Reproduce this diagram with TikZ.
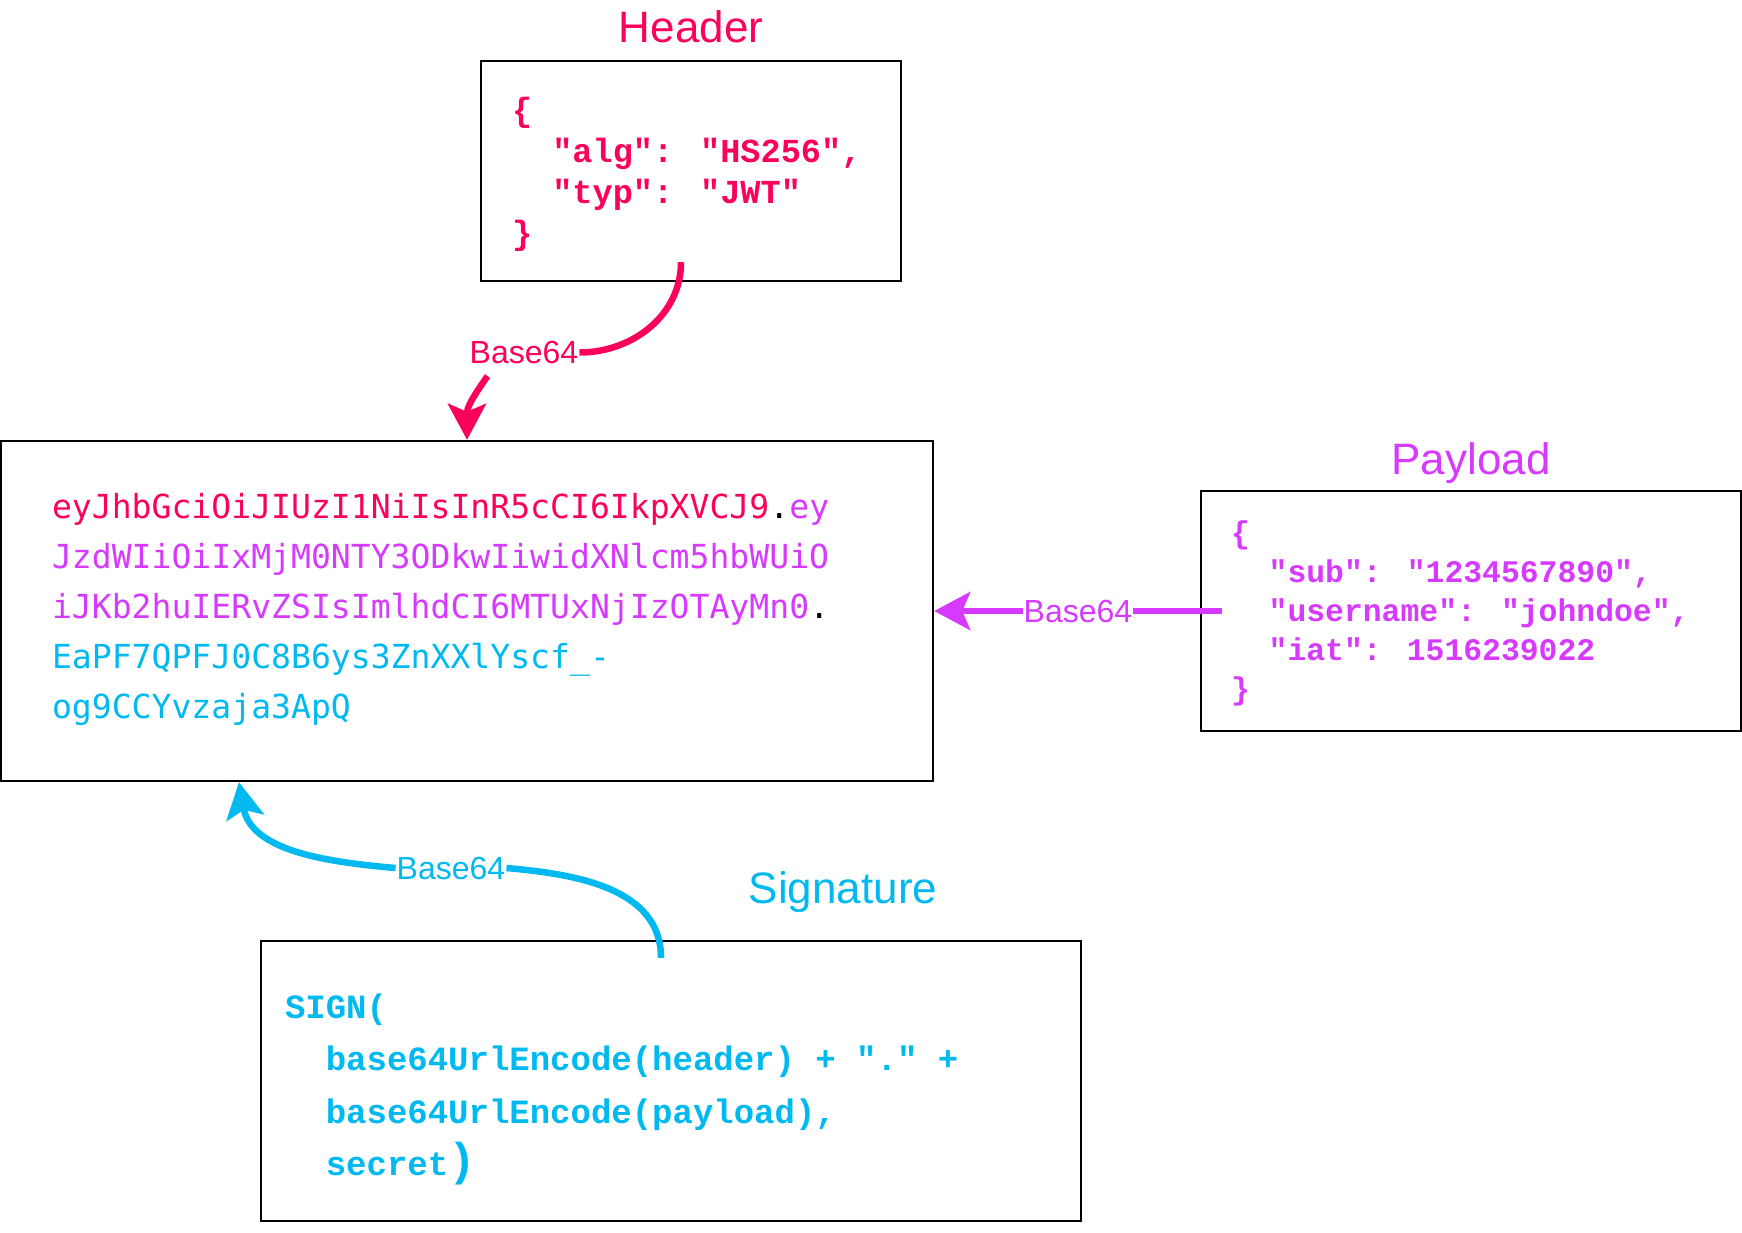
\documentclass[tikz,border=0pt]{standalone}
\usepackage{fontspec}
\setmainfont{Liberation Sans}
\newfontfamily\codefont{Liberation Mono}
\newfontfamily\jwtfont{DejaVu Sans Mono}
\usetikzlibrary{arrows.meta,positioning}
\definecolor{hdrred}{HTML}{FB015B}
\definecolor{paypurple}{HTML}{D63AFF}
\definecolor{sigblue}{HTML}{00B9F1}
\tikzset{
  box/.style={draw, line width=2.4pt, inner sep=0pt},
  part/.style={anchor=base, font=\fontsize{44}{52}\selectfont},
  code/.style={anchor=base west, align=left, inner sep=0pt},
  b64/.style={fill=white, inner sep=1pt, font=\fontsize{32}{38}\selectfont},
  conn/.style={line width=6.5pt, -{Stealth[length=36pt,width=38pt,inset=8pt]}}
}
\begin{document}
\begin{tikzpicture}[x=1pt,y=1pt]
\useasboundingbox (0,0) rectangle (1742,-1232);
\node[box, minimum width=420pt, minimum height=220pt] (hdr) at (691,-171) {};
\node[box, minimum width=932pt, minimum height=340pt] (jwt) at (467,-611) {};
\node[box, minimum width=540pt, minimum height=240pt] (pay) at (1471,-611) {};
\node[box, minimum width=820pt, minimum height=280pt] (sig) at (671,-1081) {};

\node[part, text=hdrred] (hdrtitle) at ([yshift=17pt]hdr.north) {Header};
\node[part, text=paypurple] (paytitle) at ([yshift=15pt]pay.north) {Payload};
\node[part, text=sigblue] (sigtitle) at ([xshift=172pt,yshift=36pt]sig.north) {Signature};

% base anchor sits on the last line
\node[code, text=hdrred, font=\codefont\fontsize{33.6}{41}\bfseries] (hdrtxt)
  at ([xshift=32pt,yshift=-185pt]hdr.north west)
  {\{\\\ \ "alg": "HS256",\\\ \ "typ": "JWT"\\\}};
\node[code, font=\jwtfont\fontsize{33.1}{50}\selectfont] (jwttxt)
  at ([xshift=52pt,yshift=-279pt]jwt.north west)
  {\textcolor{hdrred}{eyJhbGciOiJIUzI1NiIsInR5cCI6IkpXVCJ9}.\textcolor{paypurple}{ey}\\
   \textcolor{paypurple}{JzdWIiOiIxMjM0NTY3ODkwIiwidXNlcm5hbWUiO}\\
   \textcolor{paypurple}{iJKb2huIERvZSIsImlhdCI6MTUxNjIzOTAyMn0}.\\
   \textcolor{sigblue}{EaPF7QPFJ0C8B6ys3ZnXXlYscf\_-}\\
   \textcolor{sigblue}{og9CCYvzaja3ApQ}};
\node[code, text=paypurple, font=\codefont\fontsize{31.4}{39}\bfseries] (paytxt)
  at ([xshift=31pt,yshift=-210pt]pay.north west)
  {\{\\\ \ "sub": "1234567890",\\\ \ "username": "johndoe",\\\ \ "iat": 1516239022\\\}};
\node[code, text=sigblue, font=\codefont\fontsize{34}{52.5}\bfseries] (sigtxt)
  at ([xshift=25pt,yshift=-236pt]sig.north west)
  {SIGN(\\\ \ base64UrlEncode(header) + "." +\\\ \ base64UrlEncode(payload),\\\ \ secret{\fontsize{46}{52}\selectfont)}};

\node[b64, text=hdrred] (hb64) at (524,-352.5) {Base64};
\node[b64, text=sigblue] (sb64) at (451,-868) {Base64};

\draw[conn, hdrred] ([xshift=-10pt,yshift=20pt]hdr.south) to[out=-90,in=0] (hb64.east)
  ([xshift=19pt,yshift=-11pt]hb64.south west) to[out=-125,in=90,looseness=1.2] (jwt.north);
\draw[conn, paypurple] ([xshift=22pt]pay.west) -- node[b64, text=paypurple] (pb64) {Base64} (jwt.east);
\draw[conn, sigblue] ([xshift=-10pt,yshift=-18pt]sig.north) to[out=90,in=-5] (sb64.east)
  (sb64.west) to[out=175,in=-80] ([xshift=-228pt]jwt.south);
\end{tikzpicture}
\end{document}
